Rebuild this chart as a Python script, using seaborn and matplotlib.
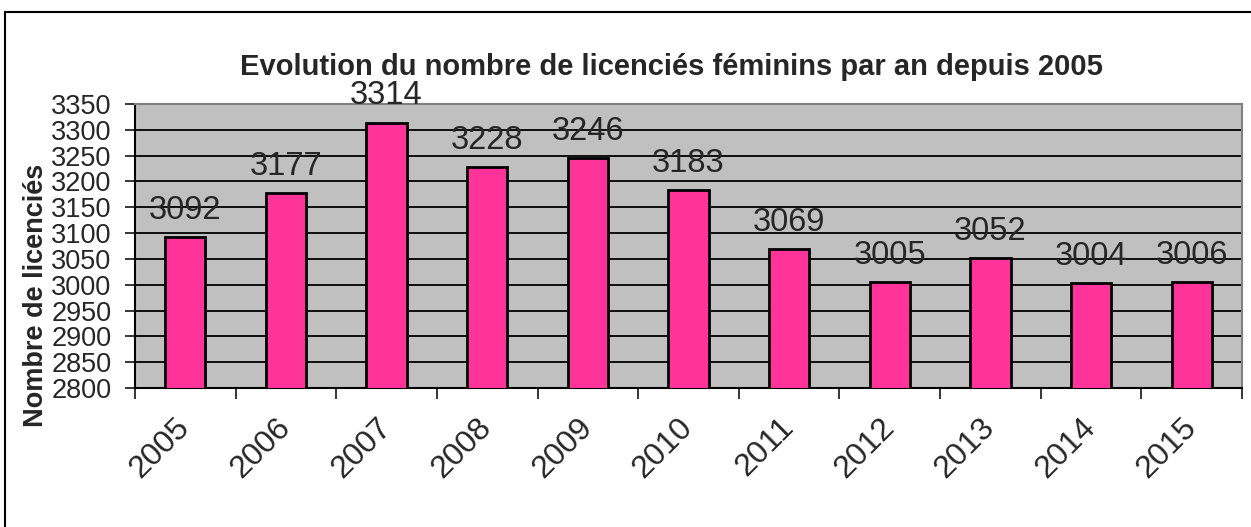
import matplotlib
matplotlib.use("Agg")
import matplotlib.pyplot as plt
import seaborn as sns
import pandas as pd
from matplotlib.lines import Line2D

years = ["2005", "2006", "2007", "2008", "2009", "2010", "2011", "2012", "2013", "2014", "2015"]
licencies = [3092, 3177, 3314, 3228, 3246, 3183, 3069, 3005, 3052, 3004, 3006]
y_ticks = list(range(2800, 3351, 50))

df = pd.DataFrame({"annee": years, "licencies": licencies})

sns.set_style("white")
plt.rcParams["font.family"] = ["Liberation Sans", "DejaVu Sans"]

fig = plt.figure(figsize=(12.51, 5.27), dpi=100)
ax = fig.add_axes([135 / 1251, 1 - 388 / 527, (1242 - 135) / 1251, (388 - 104) / 527])

sns.barplot(data=df, x="annee", y="licencies", ax=ax, color="#FF3399",
            width=0.4, edgecolor="black", linewidth=2, saturation=1, zorder=3)

ax.set_facecolor("#C0C0C0")
ax.set_ylim(2800, 3350)
ax.set_yticks(y_ticks)
ax.set_xlim(-0.5, len(years) - 0.5)
ax.yaxis.grid(True, color="black", linewidth=1.3, zorder=1)
ax.set_axisbelow(True)

for i, v in enumerate(licencies):
    ax.annotate(str(v), (i, v), xytext=(0, 8), textcoords="offset points",
                ha="center", va="bottom", fontsize=23.5, zorder=5)

ax.tick_params(axis="y", labelsize=19.5, length=7, width=1.3, direction="out", left=True, pad=10)
ax.set_xticks([i - 0.5 for i in range(len(years) + 1)], minor=True)
ax.tick_params(axis="x", which="minor", length=8, width=1.3, bottom=True)
ax.tick_params(axis="x", which="major", length=0, labelsize=23, pad=25)
for lab in ax.get_xticklabels():
    lab.set_rotation(45)
    lab.set_rotation_mode("anchor")
    lab.set_ha("right")
    lab.set_va("center")

for s in ["left", "bottom"]:
    ax.spines[s].set_color("black")
    ax.spines[s].set_linewidth(1.5)
for s in ["top", "right"]:
    ax.spines[s].set_color("#808080")
    ax.spines[s].set_linewidth(1.5)

ax.set_xlabel("")
ax.set_ylabel("")
fig.text(36 / 1251, 1 - 295 / 527, "Nombre de licenciés", rotation=90,
         ha="center", va="center", fontsize=19.5, fontweight="bold")
fig.text(0.537, 1 - 67 / 527, "Evolution du nombre de licenciés féminins par an depuis 2005",
         ha="center", va="center", fontsize=21, fontweight="bold")

# outer frame (top and left only visible)
fig.add_artist(Line2D([5 / 1251, 1], [1 - 12 / 527, 1 - 12 / 527], color="black", lw=1.5, transform=fig.transFigure))
fig.add_artist(Line2D([5 / 1251, 5 / 1251], [0, 1 - 12 / 527], color="black", lw=1.5, transform=fig.transFigure))

fig.savefig("out.png", dpi=100)
